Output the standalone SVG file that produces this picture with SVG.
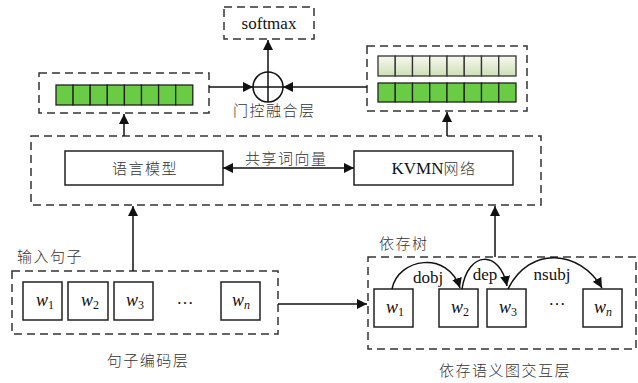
<svg xmlns="http://www.w3.org/2000/svg" width="638" height="383" viewBox="0 0 638 383">
<style>
.dash{fill:none;stroke:#333;stroke-width:1.5;stroke-dasharray:8 5}
.box{fill:#fff;stroke:#222;stroke-width:1.5}
.ln{fill:none;stroke:#111;stroke-width:1.5}
.cell{fill:#6acc44;stroke:#222;stroke-width:1.3}
.lcell{fill:url(#lg);stroke:#333;stroke-width:1.3}
.zh{font-family:"Noto Sans CJK SC",sans-serif;font-size:15px;fill:#333;letter-spacing:1.5px;font-weight:300}
.en{font-family:"Liberation Serif",serif;font-size:17px;fill:#111}
.w{font-family:"Liberation Serif",serif;font-size:18px;font-style:italic;fill:#111}
.sub{font-size:12px;font-style:normal}
.subi{font-size:12px;font-style:italic}
</style>
<defs>
<linearGradient id="lg" x1="0" y1="0" x2="0" y2="1">
<stop offset="0" stop-color="#f6f9ef"/>
<stop offset="1" stop-color="#cfdfb6"/>
</linearGradient>
<marker id="ah" viewBox="0 0 10 10" refX="10" refY="5" markerWidth="10" markerHeight="10" markerUnits="userSpaceOnUse" orient="auto">
<path d="M0,0 L10,5 L0,10 Z" fill="#111"/>
</marker>
<marker id="ahs" viewBox="0 0 10 10" refX="0" refY="5" markerWidth="10" markerHeight="10" markerUnits="userSpaceOnUse" orient="auto">
<path d="M10,0 L0,5 L10,10 Z" fill="#111"/>
</marker>
</defs>

<g id="softmax">
<rect class="dash" x="224" y="7" width="90" height="32"/>
<text class="en" x="269" y="29" text-anchor="middle">softmax</text>
</g>

<g id="gate">
<circle cx="268" cy="87" r="15" fill="#fff" stroke="#111" stroke-width="1.5"/>
<line class="ln" x1="253" y1="87" x2="283" y2="87"/>
<line class="ln" x1="268" y1="72" x2="268" y2="102"/>
<text class="zh" x="233" y="116">门控融合层</text>
</g>

<g id="lm-vector">
<rect class="dash" x="39" y="73" width="170" height="40"/>
<rect class="cell" x="56" y="85" width="17.1" height="20"/>
<rect class="cell" x="73.1" y="85" width="17.1" height="20"/>
<rect class="cell" x="90.2" y="85" width="17.1" height="20"/>
<rect class="cell" x="107.3" y="85" width="17.1" height="20"/>
<rect class="cell" x="124.4" y="85" width="17.1" height="20"/>
<rect class="cell" x="141.5" y="85" width="17.1" height="20"/>
<rect class="cell" x="158.6" y="85" width="17.1" height="20"/>
<rect class="cell" x="175.7" y="85" width="17.1" height="20"/>
</g>

<g id="kvmn-vector">
<rect class="dash" x="367" y="46" width="160" height="65"/>
<rect class="lcell" x="378" y="56" width="17.25" height="20"/>
<rect class="lcell" x="395.25" y="56" width="17.25" height="20"/>
<rect class="lcell" x="412.5" y="56" width="17.25" height="20"/>
<rect class="lcell" x="429.75" y="56" width="17.25" height="20"/>
<rect class="lcell" x="447" y="56" width="17.25" height="20"/>
<rect class="lcell" x="464.25" y="56" width="17.25" height="20"/>
<rect class="lcell" x="481.5" y="56" width="17.25" height="20"/>
<rect class="lcell" x="498.75" y="56" width="17.25" height="20"/>
<rect class="cell" x="378" y="83" width="17.25" height="19"/>
<rect class="cell" x="395.25" y="83" width="17.25" height="19"/>
<rect class="cell" x="412.5" y="83" width="17.25" height="19"/>
<rect class="cell" x="429.75" y="83" width="17.25" height="19"/>
<rect class="cell" x="447" y="83" width="17.25" height="19"/>
<rect class="cell" x="464.25" y="83" width="17.25" height="19"/>
<rect class="cell" x="481.5" y="83" width="17.25" height="19"/>
<rect class="cell" x="498.75" y="83" width="17.25" height="19"/>
</g>

<g id="middle-layer">
<rect class="dash" x="31" y="136" width="510" height="69"/>
</g>

<g id="language-model">
<rect class="box" x="65" y="151" width="158" height="34"/>
<text class="zh" x="145" y="174" text-anchor="middle">语言模型</text>
</g>

<g id="kvmn">
<rect class="box" x="354" y="151" width="159" height="34"/>
<text class="en" x="434" y="174" text-anchor="middle">KVMN<tspan font-family="Noto Sans CJK SC,sans-serif" font-size="15" font-weight="300" fill="#333" letter-spacing="1.5">网络</tspan></text>
</g>

<g id="sentence-encoder">
<rect class="dash" x="12" y="271" width="266" height="63"/>
<rect class="box" x="23" y="282" width="39" height="38"/>
<text class="w" x="36" y="306">w<tspan class="sub" dy="3">1</tspan></text>
<rect class="box" x="68" y="282" width="40" height="38"/>
<text class="w" x="81" y="306">w<tspan class="sub" dy="3">2</tspan></text>
<rect class="box" x="114" y="282" width="39" height="38"/>
<text class="w" x="126" y="306">w<tspan class="sub" dy="3">3</tspan></text>
<text class="en" x="185" y="304" text-anchor="middle" font-size="13">…</text>
<rect class="box" x="221" y="282" width="39" height="38"/>
<text class="w" x="232" y="306">w<tspan class="subi" dy="3">n</tspan></text>
<text class="zh" x="17" y="262">输入句子</text>
<text class="zh" x="148" y="366" text-anchor="middle">句子编码层</text>
</g>

<g id="dependency-graph">
<rect class="dash" x="368" y="257" width="268" height="92"/>
<rect class="box" x="374" y="289" width="39" height="38"/>
<text class="w" x="386" y="313">w<tspan class="sub" dy="3">1</tspan></text>
<rect class="box" x="439" y="289" width="39" height="38"/>
<text class="w" x="451" y="313">w<tspan class="sub" dy="3">2</tspan></text>
<rect class="box" x="487" y="289" width="39" height="38"/>
<text class="w" x="499" y="313">w<tspan class="sub" dy="3">3</tspan></text>
<text class="en" x="557" y="305" text-anchor="middle" font-size="13">…</text>
<rect class="box" x="583" y="289" width="39" height="38"/>
<text class="w" x="594" y="313">w<tspan class="subi" dy="3">n</tspan></text>
<text class="en" x="428" y="283" text-anchor="middle">dobj</text>
<text class="en" x="485" y="280" text-anchor="middle">dep</text>
<text class="en" x="552" y="280" text-anchor="middle">nsubj</text>
<text class="zh" x="379" y="249">依存树</text>
<text class="zh" x="505" y="376" text-anchor="middle">依存语义图交互层</text>
</g>

<g id="connectors">
<line class="ln" x1="268" y1="72" x2="268" y2="40" marker-end="url(#ah)"/>
<line class="ln" x1="209" y1="87" x2="253" y2="87" marker-end="url(#ah)"/>
<line class="ln" x1="367" y1="87" x2="283" y2="87" marker-end="url(#ah)"/>
<line class="ln" x1="124" y1="136" x2="124" y2="114" marker-end="url(#ah)"/>
<line class="ln" x1="447" y1="136" x2="447" y2="112" marker-end="url(#ah)"/>
<line class="ln" x1="223" y1="168" x2="354" y2="168" marker-start="url(#ahs)" marker-end="url(#ah)"/>
<text class="zh" x="245" y="164">共享词向量</text>
<line class="ln" x1="133" y1="271" x2="133" y2="206" marker-end="url(#ah)"/>
<line class="ln" x1="495" y1="257" x2="495" y2="206" marker-end="url(#ah)"/>
<line class="ln" x1="278" y1="304" x2="367" y2="304" marker-end="url(#ah)"/>
<path class="ln" d="M392,289 C398,258 448,250 460,288" marker-end="url(#ah)"/>
<path class="ln" d="M462,289 C468,250 500,250 507,286" marker-end="url(#ah)"/>
<path class="ln" d="M508,289 C530,245 580,250 602,288" marker-end="url(#ah)"/>
</g>
</svg>
